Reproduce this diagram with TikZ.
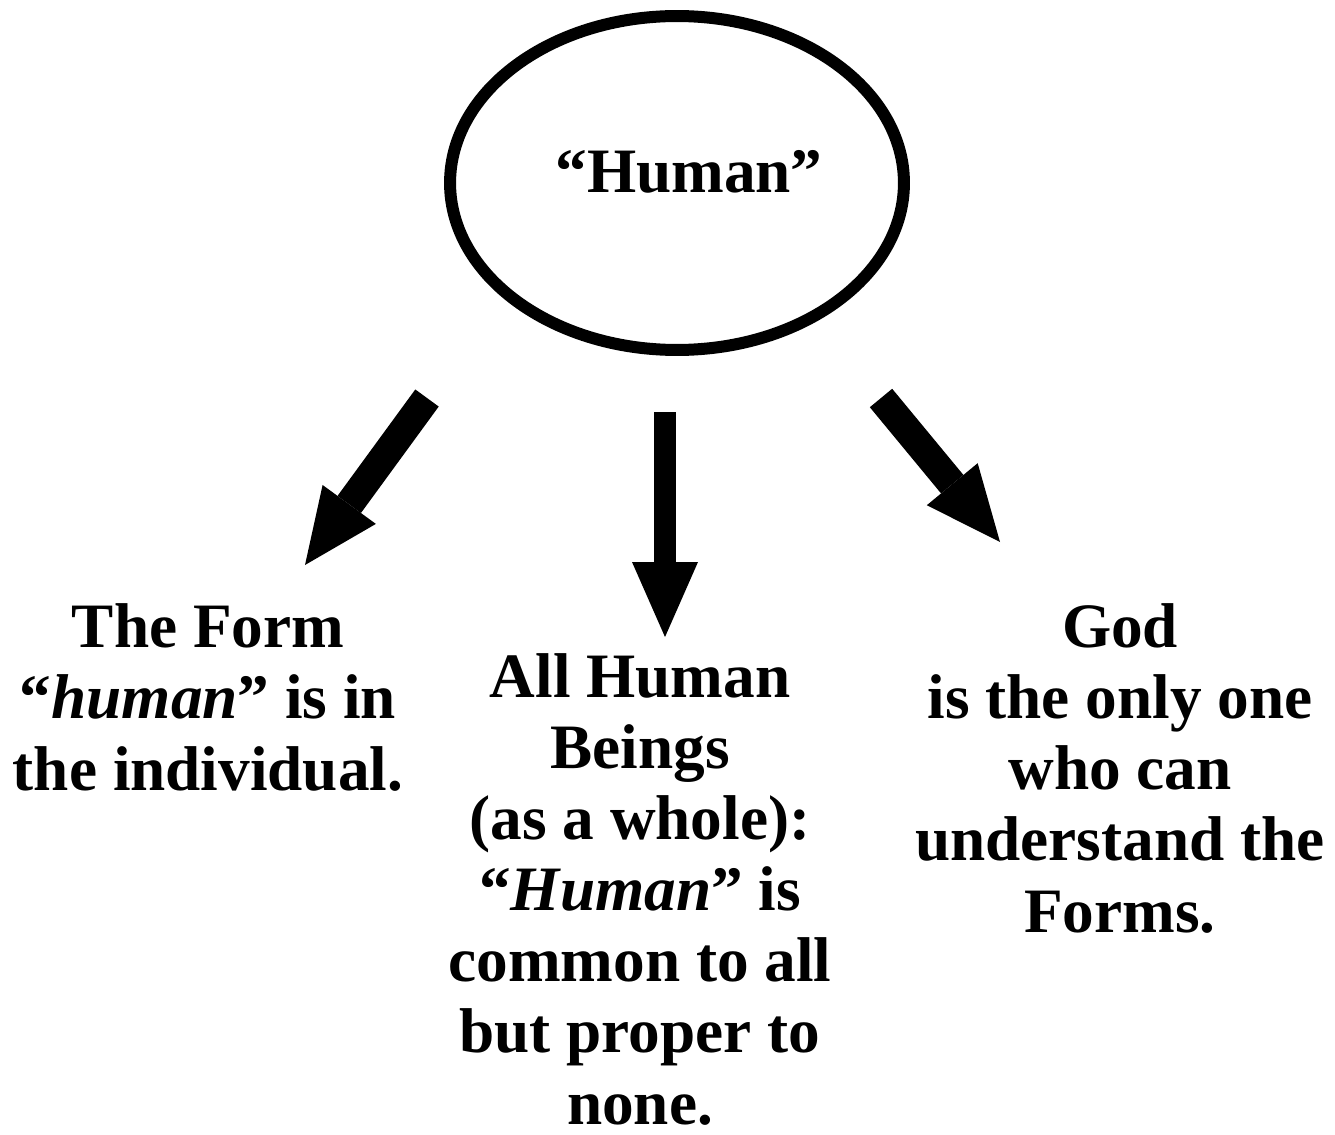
\documentclass[tikz,border=0pt]{standalone}
\usepackage{fontspec}
\setmainfont{Liberation Serif}
\usepackage{tikz}
\usetikzlibrary{shapes.geometric,arrows.meta}

\begin{document}
\begin{tikzpicture}[x=0.02cm, y=-0.02cm,
  every node/.style={font=\fontsize{36}{40.5}\selectfont\bfseries},
  block/.style={align=center, anchor=base},
  bigarrow/.style={line width=0.58cm, -{Triangle[length=1.5cm, width=1.32cm, line width=0pt]}}]
\useasboundingbox (0,0) rectangle (1335,1135);
\node[ellipse, draw, line width=0.24cm, minimum width=9.08cm, minimum height=6.68cm] (oval) at (677,183) {};
\node (human) at (689,172) {“Human”};
% arrow ends
\coordinate (ls) at (427,398); \coordinate (le) at (305,565);
\coordinate (ms) at (665,412); \coordinate (me) at (665,637);
\coordinate (rs) at (881,398); \coordinate (re) at (1000,542);
\draw[bigarrow] (ls) -- (le);
\draw[bigarrow, line width=0.44cm] (ms) -- (me);
\draw[bigarrow] (rs) -- (re);
% texts (base = last line)
\node[block] (form) at (208,790) {The Form\\“\textit{human}” is in\\the individual.};
\node[block] (beings) at (640,1124) {All Human\\Beings\\(as a whole):\\“\textit{Human}” is\\common to all\\but proper to\\none.};
\node[block] (god) at (1120,932) {God\\is the only one\\who can\\understand the\\Forms.};
\end{tikzpicture}
\end{document}
